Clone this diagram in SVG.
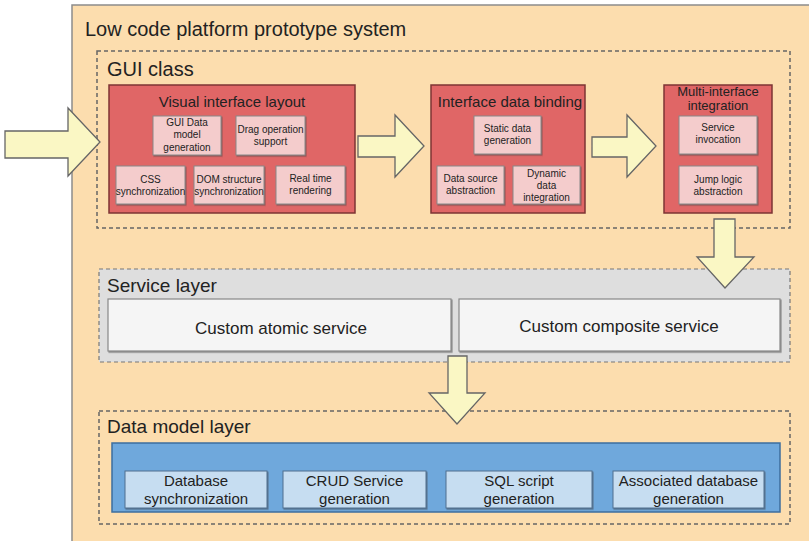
<svg xmlns="http://www.w3.org/2000/svg" width="809" height="541" viewBox="0 0 809 541">
<defs>
<filter id="sh" x="-10%" y="-10%" width="130%" height="130%">
<feDropShadow dx="1" dy="1.2" stdDeviation="0.7" flood-color="#444" flood-opacity="0.55"/>
</filter>
</defs>
<style>
text{font-family:"Liberation Sans",Arial,sans-serif;fill:#222}
.dash{fill:none;stroke:#666;stroke-width:1.5;stroke-dasharray:4 3}
.red{fill:#E06666;stroke:#7d3535;stroke-width:1.5}
.pink{fill:#F4CCCC;stroke:#888;stroke-width:1;filter:url(#sh)}
.svc{fill:#F5F5F5;stroke:#888;stroke-width:1.2;filter:url(#sh)}
.lblue{fill:#C6DDF1;stroke:#4f6f8f;stroke-width:1;filter:url(#sh)}
.arr{fill:#FAF7C4;stroke:#666;stroke-width:1.3;stroke-linejoin:miter}
.s10{font-size:10px;text-anchor:middle}
.s15{font-size:15px;text-anchor:middle}
.t{font-size:15px;text-anchor:middle}
</style>

<g id="system">
<rect x="72" y="5" width="745" height="545" fill="#FCDDAE" stroke="#8c8c8c" stroke-width="1.5"/>
<text x="85" y="36" style="font-size:20px">Low code platform prototype system</text>
</g>

<g id="gui-class">
<rect class="dash" x="97" y="51" width="693" height="177"/>
<text x="107" y="76" style="font-size:20px">GUI class</text>
</g>

<g id="visual-interface-layout">
<rect class="red" x="109" y="85" width="246" height="128"/>
<text class="t" x="232" y="107">Visual interface layout</text>
</g>
<g id="gui-data-model-generation">
<rect class="pink" x="153" y="116" width="68" height="39"/>
<text class="s10" x="187" y="125.5">GUI Data</text>
<text class="s10" x="187" y="138">model</text>
<text class="s10" x="187" y="150.5">generation</text>
</g>
<g id="drag-operation-support">
<rect class="pink" x="236" y="116" width="69" height="39"/>
<text class="s10" x="270.5" y="132.5">Drag operation</text>
<text class="s10" x="270.5" y="144.5">support</text>
</g>
<g id="css-synchronization">
<rect class="pink" x="116" y="166" width="69" height="38"/>
<text class="s10" x="150.5" y="182.5">CSS</text>
<text class="s10" x="150.5" y="194.5">synchronization</text>
</g>
<g id="dom-structure-synchronization">
<rect class="pink" x="194" y="166" width="70" height="38"/>
<text class="s10" x="229" y="182.5">DOM structure</text>
<text class="s10" x="229" y="194.5">synchronization</text>
</g>
<g id="real-time-rendering">
<rect class="pink" x="276" y="166" width="69" height="38"/>
<text class="s10" x="310.5" y="182">Real time</text>
<text class="s10" x="310.5" y="194">rendering</text>
</g>

<g id="interface-data-binding">
<rect class="red" x="431" y="85" width="154" height="128"/>
<text class="t" x="510" y="107">Interface data binding</text>
</g>
<g id="static-data-generation">
<rect class="pink" x="474" y="116" width="67" height="38"/>
<text class="s10" x="507.5" y="131.5">Static data</text>
<text class="s10" x="507.5" y="143.5">generation</text>
</g>
<g id="data-source-abstraction">
<rect class="pink" x="437" y="166" width="67" height="38"/>
<text class="s10" x="470.5" y="181.5">Data source</text>
<text class="s10" x="470.5" y="193.5">abstraction</text>
</g>
<g id="dynamic-data-integration">
<rect class="pink" x="513" y="166" width="67" height="38"/>
<text class="s10" x="546.5" y="176.5">Dynamic</text>
<text class="s10" x="546.5" y="188.5">data</text>
<text class="s10" x="546.5" y="200.5">integration</text>
</g>

<g id="multi-interface-integration">
<rect class="red" x="664" y="85" width="108" height="128"/>
<text x="718" y="96" style="font-size:13px;text-anchor:middle">Multi-interface</text>
<text x="718" y="110" style="font-size:13px;text-anchor:middle">integration</text>
</g>
<g id="service-invocation">
<rect class="pink" x="679" y="116" width="78" height="38"/>
<text class="s10" x="718" y="130.5">Service</text>
<text class="s10" x="718" y="142.5">invocation</text>
</g>
<g id="jump-logic-abstraction">
<rect class="pink" x="679" y="166" width="78" height="38"/>
<text class="s10" x="718" y="182.5">Jump logic</text>
<text class="s10" x="718" y="194.5">abstraction</text>
</g>

<g id="service-layer">
<rect x="99" y="269" width="691" height="93" fill="#DEDEDE" stroke="#777" stroke-width="1.2" stroke-dasharray="4 3"/>
<text x="107" y="292" style="font-size:19px">Service layer</text>
</g>
<g id="custom-atomic-service">
<rect class="svc" x="108" y="299" width="343" height="52"/>
<text x="281" y="334" style="font-size:17px;text-anchor:middle">Custom atomic service</text>
</g>
<g id="custom-composite-service">
<rect class="svc" x="459" y="299" width="321" height="52"/>
<text x="619" y="332" style="font-size:17px;text-anchor:middle">Custom composite service</text>
</g>

<g id="data-model-layer">
<rect class="dash" x="99" y="411" width="691" height="113"/>
<text x="107" y="433" style="font-size:19px">Data model layer</text>
<rect x="112" y="443" width="668" height="69" fill="#6FA8DC" stroke="#3d6e9e" stroke-width="1.5"/>
</g>
<g id="database-synchronization">
<rect class="lblue" x="125" y="471" width="142" height="37"/>
<text class="s15" x="196" y="486">Database</text>
<text class="s15" x="196" y="504">synchronization</text>
</g>
<g id="crud-service-generation">
<rect class="lblue" x="283" y="471" width="143" height="37"/>
<text class="s15" x="354.5" y="486">CRUD Service</text>
<text class="s15" x="354.5" y="504">generation</text>
</g>
<g id="sql-script-generation">
<rect class="lblue" x="446" y="471" width="146" height="37"/>
<text class="s15" x="519" y="486">SQL script</text>
<text class="s15" x="519" y="504">generation</text>
</g>
<g id="associated-database-generation">
<rect class="lblue" x="613" y="471" width="151" height="37"/>
<text class="s15" x="688.5" y="486">Associated database</text>
<text class="s15" x="688.5" y="504">generation</text>
</g>

<g id="connectors">
<polygon class="arr" points="5,131 68,131 68,108 100,142 68,176 68,158 5,158"/>
<polygon class="arr" points="358,136 395,136 395,115 424,146 395,177 395,157 358,157"/>
<polygon class="arr" points="592,137 627,137 627,115 656,146 627,177 627,157 592,157"/>
<polygon class="arr" points="714,219 735,219 735,257 754,257 725,288 697,257 714,257"/>
<polygon class="arr" points="448,356 467,356 467,393 485,393 457,424 429,393 448,393"/>
</g>
</svg>
